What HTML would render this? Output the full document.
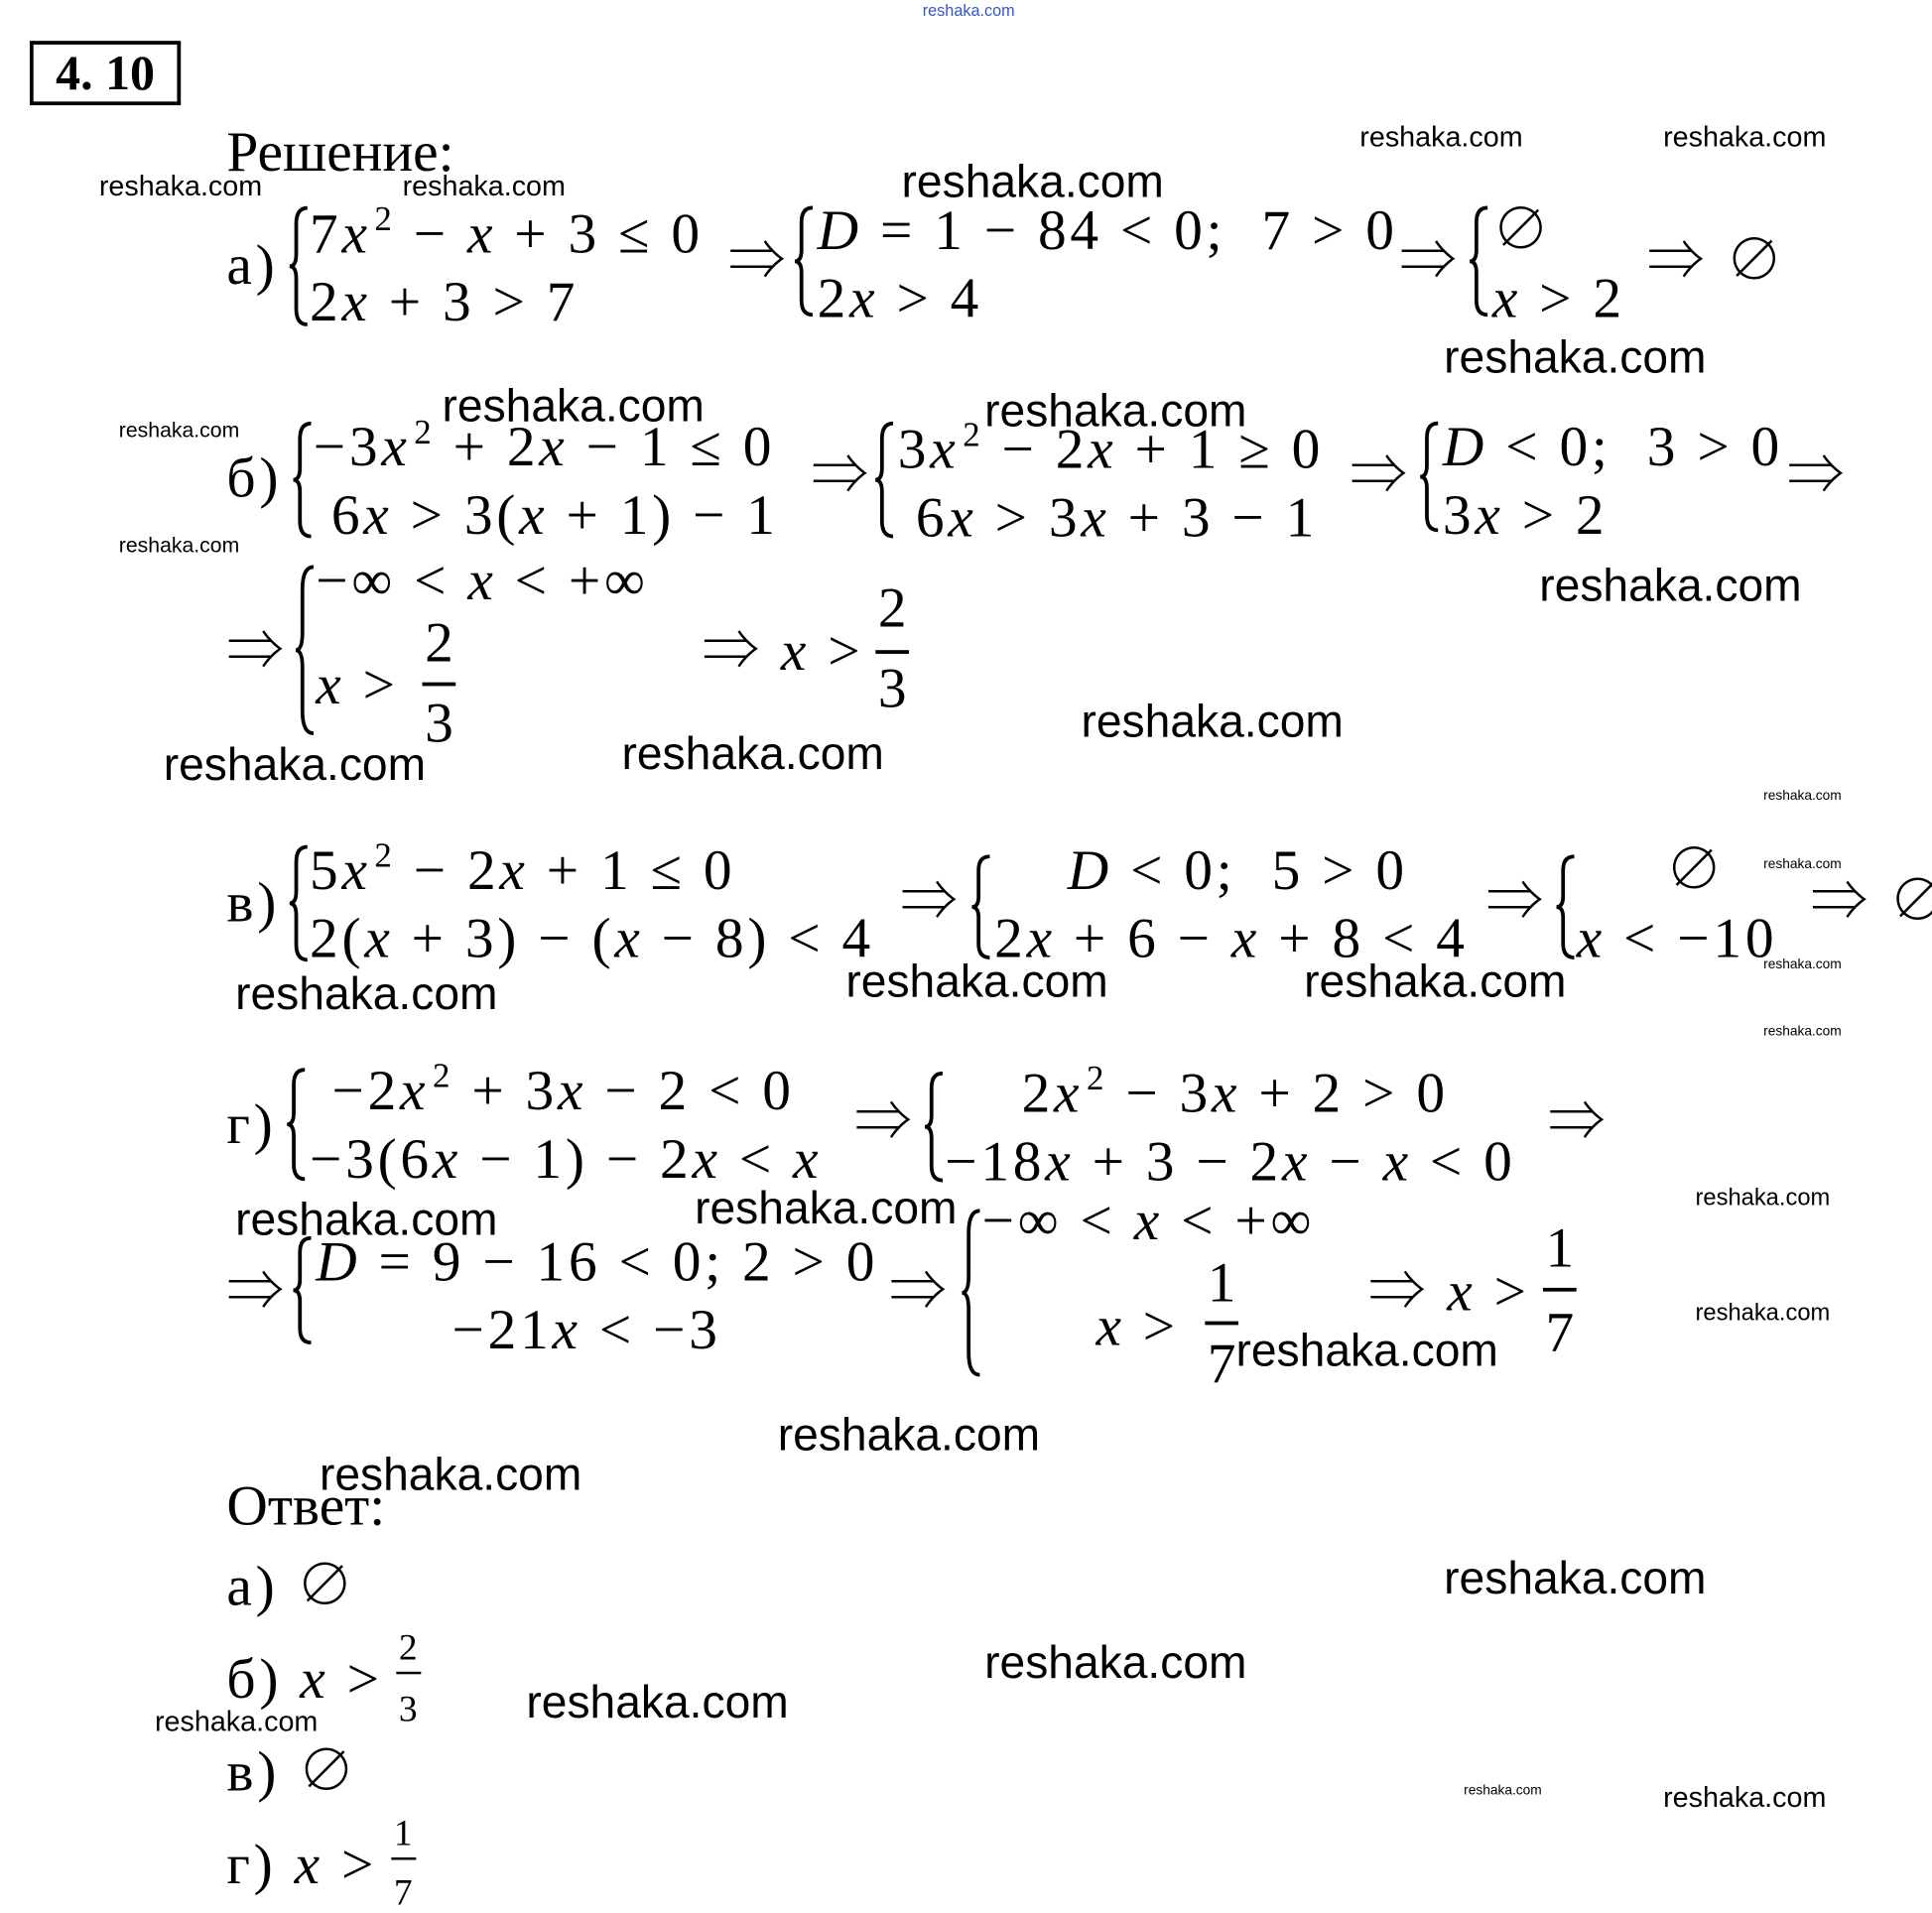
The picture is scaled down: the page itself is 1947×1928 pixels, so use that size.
<!DOCTYPE html>
<html><head><meta charset="utf-8"><style>
html,body{margin:0;padding:0;background:#fff;}
body{width:1947px;height:1919px;overflow:hidden;position:relative;}
#w{position:absolute;left:0;top:0;width:1560px;height:1537px;transform:scale(1.248);transform-origin:0 0;}
.t{position:absolute;font-family:"Liberation Serif","Noto Serif CJK SC",serif;font-size:46px;line-height:1;white-space:pre;color:#000;letter-spacing:3px;}
.t i{font-style:italic;}
.t sup{font-size:28px;vertical-align:0;position:relative;top:-18px;margin-left:3px;}
.nl{letter-spacing:0;}
.wm{position:absolute;font-family:"Liberation Sans",sans-serif;line-height:1;white-space:pre;color:#000;}
.b{font-size:37px;}
.m{font-size:23px;}
.s{font-size:17px;}
.xs{font-size:11px;}
svg.br{position:absolute;overflow:visible;}
.bar{position:absolute;height:3px;background:#000;}
</style></head><body><div id="w">
<div class="wm" style="left:745px;top:2px;font-size:13px;color:#3355cc">reshaka.com</div>
<div style="position:absolute;left:24px;top:33px;width:116px;height:46px;border:3px solid #000;font-family:'Liberation Serif',serif;font-weight:bold;font-size:40px;line-height:46px;text-align:center">4. 10</div>
<div class="t nl" style="left:183px;top:100px">Решение:</div>

<!-- а -->
<div class="t" style="left:183px;top:191px">а)</div>
<svg class="br" style="left:232px;top:166px" width="18" height="98" viewBox="0 0 20 100" preserveAspectRatio="none"><path d="M18,2 Q8,2 8,15 L8,40 Q8,50 2,50 Q8,50 8,60 L8,85 Q8,98 18,98" fill="none" stroke="#000" stroke-width="3" vector-effect="non-scaling-stroke"/></svg>
<div class="t" style="left:250px;top:166px">7<i>x</i><sup>2</sup> − <i>x</i> + 3 ≤ 0</div>
<div class="t" style="left:250px;top:221px">2<i>x</i> + 3 &gt; 7</div>
<div class="t" style="left:588px;top:188px">⇒</div>
<svg class="br" style="left:640px;top:166px" width="18" height="90" viewBox="0 0 20 100" preserveAspectRatio="none"><path d="M18,2 Q8,2 8,15 L8,40 Q8,50 2,50 Q8,50 8,60 L8,85 Q8,98 18,98" fill="none" stroke="#000" stroke-width="3" vector-effect="non-scaling-stroke"/></svg>
<div class="t" style="left:660px;top:163px"><i>D</i> = 1 − 84 &lt; 0;  7 &gt; 0</div>
<div class="t" style="left:660px;top:218px">2<i>x</i> &gt; 4</div>
<div class="t" style="left:1130px;top:188px">⇒</div>
<svg class="br" style="left:1185px;top:166px" width="18" height="90" viewBox="0 0 20 100" preserveAspectRatio="none"><path d="M18,2 Q8,2 8,15 L8,40 Q8,50 2,50 Q8,50 8,60 L8,85 Q8,98 18,98" fill="none" stroke="#000" stroke-width="3" vector-effect="non-scaling-stroke"/></svg>
<div class="t" style="left:1205px;top:163px">∅</div>
<div class="t" style="left:1205px;top:218px"><i>x</i> &gt; 2</div>
<div class="t" style="left:1330px;top:188px">⇒ ∅</div>

<!-- б -->
<div class="t" style="left:183px;top:363px">б)</div>
<svg class="br" style="left:235px;top:340px" width="18" height="95" viewBox="0 0 20 100" preserveAspectRatio="none"><path d="M18,2 Q8,2 8,15 L8,40 Q8,50 2,50 Q8,50 8,60 L8,85 Q8,98 18,98" fill="none" stroke="#000" stroke-width="3" vector-effect="non-scaling-stroke"/></svg>
<div class="t" style="left:253px;top:338px">−3<i>x</i><sup>2</sup> + 2<i>x</i> − 1 ≤ 0</div>
<div class="t" style="left:253px;top:393px"> 6<i>x</i> &gt; 3(<i>x</i> + 1) − 1</div>
<div class="t" style="left:655px;top:361px">⇒</div>
<svg class="br" style="left:705px;top:340px" width="18" height="95" viewBox="0 0 20 100" preserveAspectRatio="none"><path d="M18,2 Q8,2 8,15 L8,40 Q8,50 2,50 Q8,50 8,60 L8,85 Q8,98 18,98" fill="none" stroke="#000" stroke-width="3" vector-effect="non-scaling-stroke"/></svg>
<div class="t" style="left:725px;top:340px">3<i>x</i><sup>2</sup> − 2<i>x</i> + 1 ≥ 0</div>
<div class="t" style="left:725px;top:395px"> 6<i>x</i> &gt; 3<i>x</i> + 3 − 1</div>
<div class="t" style="left:1090px;top:361px">⇒</div>
<svg class="br" style="left:1145px;top:340px" width="18" height="90" viewBox="0 0 20 100" preserveAspectRatio="none"><path d="M18,2 Q8,2 8,15 L8,40 Q8,50 2,50 Q8,50 8,60 L8,85 Q8,98 18,98" fill="none" stroke="#000" stroke-width="3" vector-effect="non-scaling-stroke"/></svg>
<div class="t" style="left:1165px;top:338px"><i>D</i> &lt; 0;  3 &gt; 0</div>
<div class="t" style="left:1165px;top:393px">3<i>x</i> &gt; 2</div>
<div class="t" style="left:1443px;top:361px">⇒</div>

<div class="t" style="left:183px;top:503px">⇒</div>
<svg class="br" style="left:237px;top:455px" width="18" height="140" viewBox="0 0 20 100" preserveAspectRatio="none"><path d="M18,2 Q8,2 8,15 L8,40 Q8,50 2,50 Q8,50 8,60 L8,85 Q8,98 18,98" fill="none" stroke="#000" stroke-width="3" vector-effect="non-scaling-stroke"/></svg>
<div class="t" style="left:255px;top:446px">−∞ &lt; <i>x</i> &lt; +∞</div>
<div class="t" style="left:255px;top:530px"><i>x</i> &gt;</div>
<div class="t" style="left:343px;top:496px">2</div>
<div class="bar" style="left:341px;top:551px;width:27px"></div>
<div class="t" style="left:343px;top:561px">3</div>
<div class="t" style="left:567px;top:503px">⇒ <i>x</i> &gt;</div>
<div class="t" style="left:709px;top:468px">2</div>
<div class="bar" style="left:707px;top:525px;width:27px"></div>
<div class="t" style="left:709px;top:533px">3</div>

<!-- в -->
<div class="t" style="left:183px;top:706px">в)</div>
<svg class="br" style="left:232px;top:682px" width="18" height="95" viewBox="0 0 20 100" preserveAspectRatio="none"><path d="M18,2 Q8,2 8,15 L8,40 Q8,50 2,50 Q8,50 8,60 L8,85 Q8,98 18,98" fill="none" stroke="#000" stroke-width="3" vector-effect="non-scaling-stroke"/></svg>
<div class="t" style="left:250px;top:680px">5<i>x</i><sup>2</sup> − 2<i>x</i> + 1 ≤ 0</div>
<div class="t" style="left:250px;top:735px">2(<i>x</i> + 3) − (<i>x</i> − 8) &lt; 4</div>
<div class="t" style="left:727px;top:705px">⇒</div>
<svg class="br" style="left:783px;top:690px" width="18" height="85" viewBox="0 0 20 100" preserveAspectRatio="none"><path d="M18,2 Q8,2 8,15 L8,40 Q8,50 2,50 Q8,50 8,60 L8,85 Q8,98 18,98" fill="none" stroke="#000" stroke-width="3" vector-effect="non-scaling-stroke"/></svg>
<div class="t" style="left:862px;top:680px"><i>D</i> &lt; 0;  5 &gt; 0</div>
<div class="t" style="left:803px;top:735px">2<i>x</i> + 6 − <i>x</i> + 8 &lt; 4</div>
<div class="t" style="left:1200px;top:705px">⇒</div>
<svg class="br" style="left:1255px;top:690px" width="18" height="85" viewBox="0 0 20 100" preserveAspectRatio="none"><path d="M18,2 Q8,2 8,15 L8,40 Q8,50 2,50 Q8,50 8,60 L8,85 Q8,98 18,98" fill="none" stroke="#000" stroke-width="3" vector-effect="non-scaling-stroke"/></svg>
<div class="t" style="left:1345px;top:680px">∅</div>
<div class="t" style="left:1273px;top:735px"><i>x</i> &lt; −10</div>
<div class="t" style="left:1462px;top:705px">⇒ ∅</div>

<!-- г -->
<div class="t" style="left:183px;top:885px">г)</div>
<svg class="br" style="left:230px;top:862px" width="18" height="92" viewBox="0 0 20 100" preserveAspectRatio="none"><path d="M18,2 Q8,2 8,15 L8,40 Q8,50 2,50 Q8,50 8,60 L8,85 Q8,98 18,98" fill="none" stroke="#000" stroke-width="3" vector-effect="non-scaling-stroke"/></svg>
<div class="t" style="left:268px;top:858px">−2<i>x</i><sup>2</sup> + 3<i>x</i> − 2 &lt; 0</div>
<div class="t" style="left:250px;top:913px">−3(6<i>x</i> − 1) − 2<i>x</i> &lt; <i>x</i></div>
<div class="t" style="left:690px;top:883px">⇒</div>
<svg class="br" style="left:745px;top:865px" width="18" height="90" viewBox="0 0 20 100" preserveAspectRatio="none"><path d="M18,2 Q8,2 8,15 L8,40 Q8,50 2,50 Q8,50 8,60 L8,85 Q8,98 18,98" fill="none" stroke="#000" stroke-width="3" vector-effect="non-scaling-stroke"/></svg>
<div class="t" style="left:825px;top:860px">2<i>x</i><sup>2</sup> − 3<i>x</i> + 2 &gt; 0</div>
<div class="t" style="left:763px;top:915px">−18<i>x</i> + 3 − 2<i>x</i> − <i>x</i> &lt; 0</div>
<div class="t" style="left:1250px;top:883px">⇒</div>

<div class="t" style="left:183px;top:1020px">⇒</div>
<svg class="br" style="left:235px;top:998px" width="18" height="88" viewBox="0 0 20 100" preserveAspectRatio="none"><path d="M18,2 Q8,2 8,15 L8,40 Q8,50 2,50 Q8,50 8,60 L8,85 Q8,98 18,98" fill="none" stroke="#000" stroke-width="3" vector-effect="non-scaling-stroke"/></svg>
<div class="t" style="left:255px;top:996px"><i>D</i> = 9 − 16 &lt; 0; 2 &gt; 0</div>
<div class="t" style="left:365px;top:1051px">−21<i>x</i> &lt; −3</div>
<div class="t" style="left:718px;top:1020px">⇒</div>
<svg class="br" style="left:775px;top:975px" width="18" height="138" viewBox="0 0 20 100" preserveAspectRatio="none"><path d="M18,2 Q8,2 8,15 L8,40 Q8,50 2,50 Q8,50 8,60 L8,85 Q8,98 18,98" fill="none" stroke="#000" stroke-width="3" vector-effect="non-scaling-stroke"/></svg>
<div class="t" style="left:793px;top:963px">−∞ &lt; <i>x</i> &lt; +∞</div>
<div class="t" style="left:885px;top:1048px"><i>x</i> &gt;</div>
<div class="t" style="left:975px;top:1013px">1</div>
<div class="bar" style="left:973px;top:1067px;width:27px"></div>
<div class="t" style="left:975px;top:1078px">7</div>
<div class="t" style="left:1105px;top:1020px">⇒ <i>x</i> &gt;</div>
<div class="t" style="left:1248px;top:985px">1</div>
<div class="bar" style="left:1246px;top:1040px;width:27px"></div>
<div class="t" style="left:1248px;top:1053px">7</div>

<!-- Ответ -->
<div class="t nl" style="left:183px;top:1193px">Ответ:</div>
<div class="t" style="left:183px;top:1258px">а) ∅</div>
<div class="t" style="left:183px;top:1333px">б) <i>x</i> &gt;</div>
<div class="t" style="left:322px;top:1316px;font-size:30px">2</div>
<div class="bar" style="left:320px;top:1350px;width:20px;height:2px"></div>
<div class="t" style="left:322px;top:1366px;font-size:30px">3</div>
<div class="t" style="left:183px;top:1408px">в) ∅</div>
<div class="t" style="left:183px;top:1483px">г) <i>x</i> &gt;</div>
<div class="t" style="left:318px;top:1466px;font-size:30px">1</div>
<div class="bar" style="left:316px;top:1500px;width:20px;height:2px"></div>
<div class="t" style="left:318px;top:1514px;font-size:30px">7</div>

<!-- watermarks -->
<div class="wm m" style="left:1098px;top:99px">reshaka.com</div>
<div class="wm m" style="left:1343px;top:99px">reshaka.com</div>
<div class="wm m" style="left:80px;top:139px">reshaka.com</div>
<div class="wm m" style="left:325px;top:139px">reshaka.com</div>
<div class="wm b" style="left:728px;top:128px">reshaka.com</div>
<div class="wm b" style="left:1166px;top:270px">reshaka.com</div>
<div class="wm b" style="left:357px;top:309px">reshaka.com</div>
<div class="wm b" style="left:795px;top:313px">reshaka.com</div>
<div class="wm s" style="left:96px;top:339px">reshaka.com</div>
<div class="wm s" style="left:96px;top:432px">reshaka.com</div>
<div class="wm b" style="left:1243px;top:454px">reshaka.com</div>
<div class="wm b" style="left:873px;top:564px">reshaka.com</div>
<div class="wm b" style="left:132px;top:599px">reshaka.com</div>
<div class="wm b" style="left:502px;top:590px">reshaka.com</div>
<div class="wm xs" style="left:1424px;top:638px">reshaka.com</div>
<div class="wm xs" style="left:1424px;top:693px">reshaka.com</div>
<div class="wm xs" style="left:1424px;top:774px">reshaka.com</div>
<div class="wm xs" style="left:1424px;top:828px">reshaka.com</div>
<div class="wm b" style="left:190px;top:784px">reshaka.com</div>
<div class="wm b" style="left:683px;top:774px">reshaka.com</div>
<div class="wm b" style="left:1053px;top:774px">reshaka.com</div>
<div class="wm b" style="left:190px;top:966px">reshaka.com</div>
<div class="wm b" style="left:561px;top:957px">reshaka.com</div>
<div class="wm s" style="left:1369px;top:958px;font-size:19px">reshaka.com</div>
<div class="wm s" style="left:1369px;top:1051px;font-size:19px">reshaka.com</div>
<div class="wm b" style="left:998px;top:1072px">reshaka.com</div>
<div class="wm b" style="left:628px;top:1140px">reshaka.com</div>
<div class="wm b" style="left:258px;top:1172px">reshaka.com</div>
<div class="wm b" style="left:1166px;top:1256px">reshaka.com</div>
<div class="wm b" style="left:795px;top:1324px">reshaka.com</div>
<div class="wm b" style="left:425px;top:1356px">reshaka.com</div>
<div class="wm m" style="left:125px;top:1379px">reshaka.com</div>
<div class="wm xs" style="left:1182px;top:1441px">reshaka.com</div>
<div class="wm m" style="left:1343px;top:1440px">reshaka.com</div>
</div></body></html>
